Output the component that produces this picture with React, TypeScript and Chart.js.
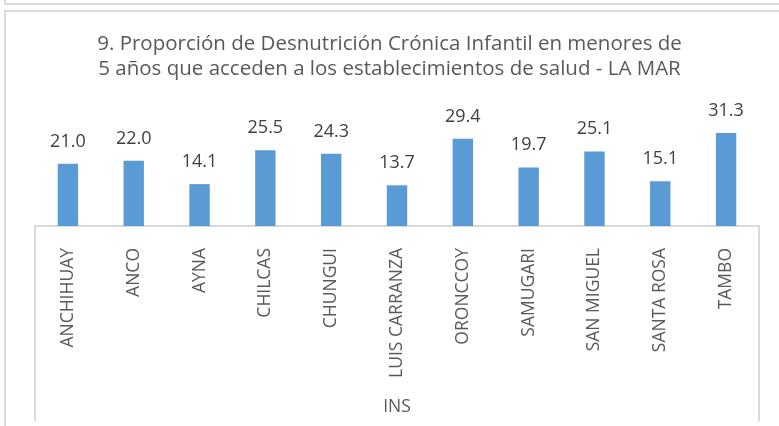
import { useEffect, useRef } from 'react';
import { Chart, registerables } from 'chart.js';
Chart.register(...registerables);

const FONT = "'Open Sans', sans-serif";
const titleLines = [
  '9. Proporción de Desnutrición Crónica Infantil en menores de',
  '5 años que acceden a los establecimientos de salud - LA MAR',
];
const categories = [
  'ANCHIHUAY', 'ANCO', 'AYNA', 'CHILCAS', 'CHUNGUI', 'LUIS CARRANZA',
  'ORONCCOY', 'SAMUGARI', 'SAN MIGUEL', 'SANTA ROSA', 'TAMBO',
];
const values = [21.0, 22.0, 14.1, 25.5, 24.3, 13.7, 29.4, 19.7, 25.1, 15.1, 31.3];
const groupLabel = 'INS';

const valueLabels = {
  id: 'valueLabels',
  afterDatasetsDraw(chart: any) {
    const ctx = chart.ctx;
    const meta = chart.getDatasetMeta(0);
    ctx.save();
    ctx.font = `18px ${FONT}`;
    ctx.fillStyle = '#404040';
    ctx.textAlign = 'center';
    ctx.textBaseline = 'alphabetic';
    meta.data.forEach((bar: any, i: number) => {
      ctx.fillText(values[i].toFixed(1), bar.x, bar.y - 17);
    });
    ctx.restore();
  },
};

const groupLines = {
  id: 'groupLines',
  afterDraw(chart: any) {
    const ctx = chart.ctx;
    const x = chart.scales.x;
    ctx.save();
    ctx.strokeStyle = '#d9d9d9';
    ctx.lineWidth = 2;
    ctx.beginPath();
    ctx.moveTo(x.left, x.top);
    ctx.lineTo(x.left, 421);
    ctx.moveTo(x.right, x.top);
    ctx.lineTo(x.right, 421);
    ctx.stroke();
    ctx.restore();
  },
};

const hiddenAxis = (position: 'left' | 'right', width: number) => ({
  position,
  display: true,
  min: 0,
  max: 35,
  grid: { display: false },
  border: { display: false },
  ticks: { display: false },
  afterFit: (s: any) => {
    s.width = width;
  },
});

export default function App() {
  const ref = useRef<HTMLCanvasElement>(null);
  useEffect(() => {
    let chart: Chart | null = null;
    let cancelled = false;
    const make = () => {
      if (cancelled || !ref.current) return;
      chart = new Chart(ref.current, {
        type: 'bar',
        data: {
          labels: categories,
          datasets: [
            {
              data: values,
              backgroundColor: '#5B9BD5',
              barPercentage: 0.31,
              categoryPercentage: 1,
              yAxisID: 'y',
            },
          ],
        },
        options: {
          responsive: false,
          animation: false,
          devicePixelRatio: 1,
          layout: { padding: { left: 0, right: 0, top: 0, bottom: 0 } },
          plugins: {
            legend: { display: false },
            tooltip: { enabled: false },
            title: {
              display: true,
              text: titleLines,
              color: '#595959',
              font: { family: FONT, size: 20.5, weight: 'normal', lineHeight: 1.245 },
              padding: { top: 31, bottom: 40 },
            },
          },
          scales: {
            x: {
              grid: { display: false },
              border: { display: true, color: '#d9d9d9', width: 2 },
              ticks: {
                color: '#595959',
                font: { family: FONT, size: 17.5 },
                minRotation: 90,
                maxRotation: 90,
                padding: 14,
                autoSkip: false,
              },
              title: {
                display: true,
                text: groupLabel,
                color: '#595959',
                font: { family: FONT, size: 17.5 },
                padding: { top: 0, bottom: 8 },
              },
              afterFit: (s: any) => {
                s.height = 200;
              },
            },
            y: hiddenAxis('left', 35),
            y1: hiddenAxis('right', 20),
          },
        },
        plugins: [valueLabels, groupLines],
      });
    };
    Promise.all([document.fonts.load(`18px "Open Sans"`)]).then(make, make);
    return () => {
      cancelled = true;
      if (chart) chart.destroy();
    };
  }, []);

  return (
    <div style={{ position: 'fixed', left: 0, top: 0, width: 779, height: 426, background: '#fff', overflow: 'hidden' }}>
      <div style={{ position: 'absolute', left: 4, top: -10, width: 800, height: 11, border: '2px solid #dadada' }} />
      <div style={{ position: 'absolute', left: 4, top: 10, width: 800, height: 500, border: '2px solid #dadada' }} />
      <canvas ref={ref} width={779} height={426} style={{ position: 'absolute', left: 0, top: 0, display: 'block' }} />
    </div>
  );
}
